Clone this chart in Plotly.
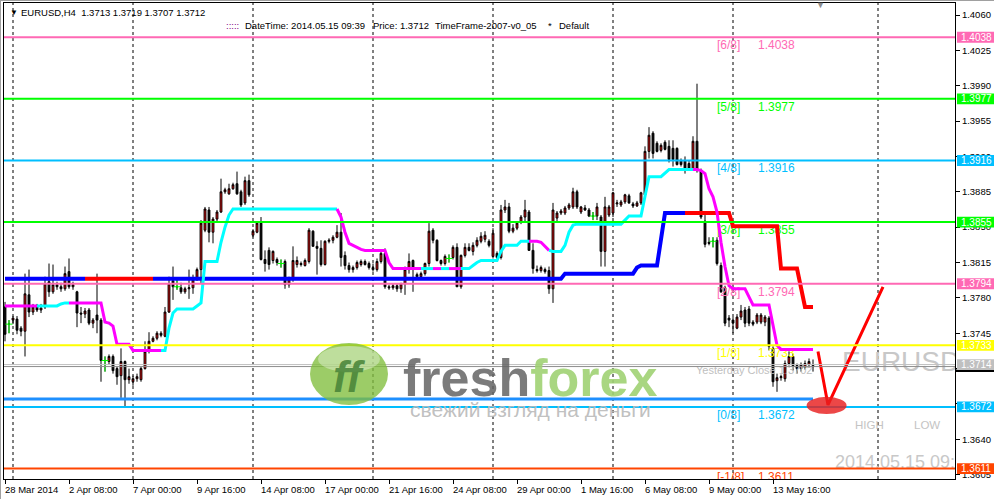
import plotly.graph_objects as go

# ---------------- data ----------------
FIRST_BAR = -32  # bar index of the first visible H4 candle (7 Apr 00:00 = bar 0)

OPEN = [
    1.3771, 1.3754, 1.3758, 1.3759, 1.3750, 1.3747, 1.3783, 1.3766, 1.3771, 1.3768,
    1.3771, 1.3796, 1.3786, 1.3793, 1.3791, 1.3789, 1.3806, 1.3791, 1.3786, 1.3765,
    1.3764, 1.3768, 1.3755, 1.3763, 1.3758, 1.3718, 1.3717, 1.3722, 1.3710, 1.3703,
    1.3717, 1.3699, 1.3697, 1.3700, 1.3699, 1.3710, 1.3727, 1.3737, 1.3740, 1.3745,
    1.3742, 1.3766, 1.3797, 1.3791, 1.3790, 1.3786, 1.3789, 1.3790, 1.3798, 1.3808,
    1.3847, 1.3867, 1.3845, 1.3858, 1.3865, 1.3885, 1.3883, 1.3888, 1.3893, 1.3885,
    1.3874, 1.3896, 1.3842, 1.3845, 1.3854, 1.3818, 1.3827, 1.3817, 1.3818, 1.3814,
    1.3816, 1.3793, 1.3799, 1.3813, 1.3814, 1.3812, 1.3816, 1.3846, 1.3831, 1.3829,
    1.3813, 1.3836, 1.3837, 1.3840, 1.3845, 1.3822, 1.3812, 1.3808, 1.3810, 1.3813,
    1.3816, 1.3814, 1.3810, 1.3808, 1.3816, 1.3824, 1.3791, 1.3790, 1.3792, 1.3789,
    1.3794, 1.3808, 1.3817, 1.3803, 1.3801, 1.3804, 1.3814, 1.3847, 1.3837, 1.3817,
    1.3814, 1.3819, 1.3820, 1.3830, 1.3791, 1.3822, 1.3830, 1.3826, 1.3832, 1.3836,
    1.3838, 1.3836, 1.3821, 1.3824, 1.3820, 1.3867, 1.3870, 1.3846, 1.3849, 1.3855,
    1.3860, 1.3865, 1.3827, 1.3808, 1.3807, 1.3808, 1.3807, 1.3789, 1.3859, 1.3864,
    1.3864, 1.3869, 1.3870, 1.3885, 1.3865, 1.3869, 1.3867, 1.3861, 1.3861, 1.3860,
    1.3826, 1.3862, 1.3864, 1.3873, 1.3872, 1.3875, 1.3881, 1.3873, 1.3871, 1.3874,
    1.3882, 1.3925, 1.3943, 1.3933, 1.3926, 1.3934, 1.3930, 1.3928, 1.3928, 1.3916,
    1.3916, 1.3913, 1.3908, 1.3935, 1.3906, 1.3856, 1.3835, 1.3836, 1.3837, 1.3812,
    1.3790, 1.3760, 1.3758, 1.3750, 1.3761, 1.3768, 1.3769, 1.3756, 1.3756, 1.3756,
    1.3756, 1.3760, 1.3730, 1.3698, 1.3701, 1.3700, 1.3715, 1.3722, 1.3713, 1.3710,
    1.3711, 1.3714, 1.3713,
]
HIGH = [
    1.3776, 1.3758, 1.3762, 1.3762, 1.3752, 1.3804, 1.3808, 1.3774, 1.3774, 1.3774,
    1.3801, 1.3814, 1.3813, 1.3796, 1.3795, 1.3811, 1.3819, 1.3796, 1.3787, 1.3771,
    1.3770, 1.3770, 1.3760, 1.3804, 1.3760, 1.3722, 1.3724, 1.3724, 1.3712, 1.3730,
    1.3718, 1.3710, 1.3703, 1.3705, 1.3712, 1.3737, 1.3746, 1.3742, 1.3747, 1.3747,
    1.3771, 1.3801, 1.3811, 1.3799, 1.3795, 1.3791, 1.3808, 1.3803, 1.3810, 1.3857,
    1.3870, 1.3870, 1.3860, 1.3867, 1.3898, 1.3889, 1.3893, 1.3894, 1.3905, 1.3887,
    1.3900, 1.3902, 1.3848, 1.3856, 1.3860, 1.3827, 1.3830, 1.3827, 1.3820, 1.3818,
    1.3818, 1.3801, 1.3831, 1.3821, 1.3816, 1.3819, 1.3849, 1.3847, 1.3836, 1.3837,
    1.3837, 1.3839, 1.3842, 1.3852, 1.3864, 1.3826, 1.3815, 1.3812, 1.3817, 1.3818,
    1.3818, 1.3816, 1.3814, 1.3819, 1.3826, 1.3829, 1.3793, 1.3794, 1.3794, 1.3795,
    1.3811, 1.3824, 1.3818, 1.3805, 1.3806, 1.3815, 1.3854, 1.3849, 1.3838, 1.3818,
    1.3823, 1.3823, 1.3832, 1.3834, 1.3823, 1.3834, 1.3834, 1.3835, 1.3840, 1.3845,
    1.3846, 1.3838, 1.3849, 1.3826, 1.3872, 1.3877, 1.3874, 1.3853, 1.3855, 1.3862,
    1.3877, 1.3867, 1.3834, 1.3812, 1.3812, 1.3810, 1.3811, 1.3874, 1.3866, 1.3868,
    1.3871, 1.3874, 1.3889, 1.3887, 1.3871, 1.3872, 1.3869, 1.3865, 1.3874, 1.3862,
    1.3880, 1.3872, 1.3885, 1.3877, 1.3877, 1.3883, 1.3883, 1.3875, 1.3876, 1.3885,
    1.3930, 1.3949, 1.3945, 1.3935, 1.3933, 1.3936, 1.3936, 1.3936, 1.3929, 1.3918,
    1.3920, 1.3916, 1.3940, 1.3992, 1.3908, 1.3862, 1.3840, 1.3840, 1.3840, 1.3815,
    1.3792, 1.3763, 1.3761, 1.3764, 1.3773, 1.3771, 1.3772, 1.3758, 1.3765, 1.3765,
    1.3763, 1.3762, 1.3732, 1.3705, 1.3704, 1.3718, 1.3727, 1.3725, 1.3715, 1.3716,
    1.3718, 1.3720, 1.3719,
]
LOW = [
    1.3737, 1.3745, 1.3754, 1.3744, 1.3742, 1.3722, 1.3761, 1.3763, 1.3766, 1.3765,
    1.3769, 1.3781, 1.3784, 1.3788, 1.3786, 1.3787, 1.3789, 1.3788, 1.3751, 1.3755,
    1.3760, 1.3753, 1.3750, 1.3745, 1.3697, 1.3707, 1.3714, 1.3705, 1.3694, 1.3681,
    1.3672, 1.3695, 1.3693, 1.3697, 1.3697, 1.3709, 1.3725, 1.3736, 1.3738, 1.3741,
    1.3741, 1.3765, 1.3778, 1.3788, 1.3784, 1.3784, 1.3779, 1.3784, 1.3797, 1.3794,
    1.3845, 1.3835, 1.3834, 1.3856, 1.3864, 1.3883, 1.3882, 1.3887, 1.3882, 1.3870,
    1.3872, 1.3880, 1.3840, 1.3844, 1.3817, 1.3806, 1.3808, 1.3814, 1.3812, 1.3810,
    1.3789, 1.3790, 1.3796, 1.3810, 1.3811, 1.3811, 1.3814, 1.3831, 1.3803, 1.3811,
    1.3812, 1.3834, 1.3834, 1.3839, 1.3811, 1.3808, 1.3805, 1.3805, 1.3808, 1.3811,
    1.3812, 1.3808, 1.3806, 1.3806, 1.3814, 1.3789, 1.3788, 1.3788, 1.3786, 1.3785,
    1.3783, 1.3804, 1.3786, 1.3800, 1.3799, 1.3802, 1.3811, 1.3834, 1.3816, 1.3812,
    1.3812, 1.3815, 1.3818, 1.3791, 1.3789, 1.3820, 1.3826, 1.3822, 1.3830, 1.3834,
    1.3835, 1.3830, 1.3819, 1.3818, 1.3818, 1.3864, 1.3844, 1.3844, 1.3847, 1.3853,
    1.3855, 1.3827, 1.3804, 1.3805, 1.3805, 1.3804, 1.3784, 1.3775, 1.3856, 1.3862,
    1.3862, 1.3867, 1.3868, 1.3868, 1.3863, 1.3866, 1.3860, 1.3857, 1.3857, 1.3811,
    1.3811, 1.3860, 1.3860, 1.3870, 1.3870, 1.3873, 1.3873, 1.3869, 1.3870, 1.3872,
    1.3880, 1.3918, 1.3918, 1.3924, 1.3924, 1.3926, 1.3914, 1.3910, 1.3911, 1.3910,
    1.3903, 1.3906, 1.3906, 1.3904, 1.3858, 1.3830, 1.3832, 1.3830, 1.3812, 1.3785,
    1.3752, 1.3751, 1.3745, 1.3749, 1.3758, 1.3751, 1.3752, 1.3752, 1.3754, 1.3754,
    1.3752, 1.3728, 1.3692, 1.3687, 1.3698, 1.3697, 1.3713, 1.3708, 1.3705, 1.3707,
    1.3709, 1.3711, 1.3707,
]
CLOSE = [
    1.3744, 1.3754, 1.3760, 1.3748, 1.3747, 1.3784, 1.3766, 1.3771, 1.3768, 1.3770,
    1.3794, 1.3786, 1.3793, 1.3791, 1.3789, 1.3804, 1.3791, 1.3793, 1.3765, 1.3764,
    1.3767, 1.3755, 1.3758, 1.3758, 1.3718, 1.3718, 1.3722, 1.3708, 1.3702, 1.3717,
    1.3699, 1.3702, 1.3700, 1.3702, 1.3710, 1.3727, 1.3737, 1.3740, 1.3745, 1.3743,
    1.3766, 1.3794, 1.3791, 1.3791, 1.3786, 1.3789, 1.3790, 1.3798, 1.3808, 1.3854,
    1.3868, 1.3845, 1.3858, 1.3865, 1.3885, 1.3887, 1.3888, 1.3892, 1.3883, 1.3872,
    1.3896, 1.3882, 1.3846, 1.3854, 1.3818, 1.3814, 1.3813, 1.3826, 1.3815, 1.3814,
    1.3793, 1.3799, 1.3817, 1.3817, 1.3813, 1.3817, 1.3847, 1.3831, 1.3829, 1.3813,
    1.3836, 1.3837, 1.3840, 1.3845, 1.3820, 1.3812, 1.3808, 1.3810, 1.3815, 1.3816,
    1.3813, 1.3810, 1.3808, 1.3816, 1.3824, 1.3791, 1.3790, 1.3792, 1.3789, 1.3794,
    1.3808, 1.3816, 1.3809, 1.3801, 1.3804, 1.3814, 1.3846, 1.3837, 1.3817, 1.3814,
    1.3821, 1.3819, 1.3830, 1.3791, 1.3822, 1.3830, 1.3827, 1.3832, 1.3837, 1.3841,
    1.3842, 1.3832, 1.3844, 1.3820, 1.3867, 1.3870, 1.3846, 1.3849, 1.3854, 1.3860,
    1.3867, 1.3827, 1.3809, 1.3807, 1.3810, 1.3806, 1.3789, 1.3867, 1.3864, 1.3866,
    1.3869, 1.3872, 1.3885, 1.3870, 1.3870, 1.3867, 1.3861, 1.3861, 1.3870, 1.3826,
    1.3870, 1.3870, 1.3884, 1.3874, 1.3875, 1.3882, 1.3874, 1.3871, 1.3874, 1.3884,
    1.3925, 1.3941, 1.3923, 1.3925, 1.3931, 1.3927, 1.3917, 1.3917, 1.3912, 1.3912,
    1.3907, 1.3908, 1.3935, 1.3907, 1.3860, 1.3833, 1.3834, 1.3836, 1.3814, 1.3786,
    1.3755, 1.3758, 1.3755, 1.3761, 1.3767, 1.3755, 1.3755, 1.3754, 1.3763, 1.3763,
    1.3761, 1.3732, 1.3697, 1.3701, 1.3702, 1.3715, 1.3722, 1.3713, 1.3710, 1.3714,
    1.3715, 1.3717, 1.3712,
]

# trailing-stop line 1 (cyan = up, magenta = down); state = colour of segment ending at the vertex
TRAIL1_BARS = [-32, -24, -19, -18, -17, -16, -8, -7, -6, -5, -4, -1, 0, 7, 8, 9, 10, 11, 15, 16,
               17, 18, 21, 22, 23, 24, 25, 51, 52, 53, 54, 55, 56, 57, 58, 63, 64, 65, 72, 75,
               77, 79, 82, 84, 85, 86, 87, 91, 92, 93, 96, 97, 99, 101, 102, 103, 104, 105, 107, 108,
               109, 110, 111, 122, 123, 124, 127, 128, 129, 132, 133, 134, 140, 141, 142, 143, 144, 145, 146, 147,
               148, 149, 150, 153, 154, 155, 159, 160, 161, 162, 170]
TRAIL1_PRICES = [1.3772, 1.3772, 1.3772, 1.3774, 1.3775, 1.3775, 1.3775, 1.3756, 1.3755, 1.3752,
                 1.3734, 1.3734, 1.3728, 1.3728, 1.3728, 1.3750, 1.3765, 1.3769, 1.3769, 1.3772,
                 1.3775, 1.3816, 1.3816, 1.3835, 1.3850, 1.3862, 1.3868, 1.3868, 1.3860, 1.3845,
                 1.3834, 1.3832, 1.3830, 1.3828, 1.3827, 1.3827, 1.3815, 1.3809, 1.3809, 1.3809,
                 1.3809, 1.3809, 1.3809, 1.3809, 1.3812, 1.3815, 1.3817, 1.3817, 1.3826, 1.3832,
                 1.3832, 1.3836, 1.3836, 1.3836, 1.3835, 1.3831, 1.3827, 1.3826, 1.3826, 1.3832,
                 1.3845, 1.3852, 1.3853, 1.3853, 1.3857, 1.3861, 1.3861, 1.3880, 1.3900, 1.3900,
                 1.3904, 1.3907, 1.3907, 1.3907, 1.3906, 1.3903, 1.3888, 1.3880, 1.3865, 1.3835,
                 1.3811, 1.3792, 1.3789, 1.3789, 1.3781, 1.3773, 1.3773, 1.3751, 1.3733, 1.3729,
                 1.3729]
TRAIL1_STATE = [0, -1, 1, 1, 1, 1, -1, -1, -1, -1, -1, -1, -1, -1, 1, 1, 1, 1, 1, 1,
                1, 1, 1, 1, 1, 1, 1, 1, -1, -1, -1, -1, -1, -1, -1, -1, -1, -1, -1, 1,
                -1, 1, -1, 1, 1, 1, 1, 1, 1, 1, 1, 1, 1, -1, -1, -1, -1, 1, 1, 1,
                1, 1, 1, 1, 1, 1, 1, 1, 1, 1, 1, 1, 1, -1, -1, -1, -1, -1, -1, -1,
                -1, -1, -1, -1, -1, -1, -1, -1, -1, -1, -1]

# trailing-stop line 2 (blue = up, red = down)
TRAIL2_BARS = [-32, -12, 5, 107, 108, 125, 126, 127, 131, 132, 133, 138, 149, 150, 161, 162, 166, 167, 168, 170]
TRAIL2_PRICES = [1.3799, 1.3799, 1.3799, 1.3799, 1.3804, 1.3804, 1.3810, 1.3812, 1.3812, 1.3840,
                 1.3864, 1.3864, 1.3864, 1.3851, 1.3851, 1.3809, 1.3809, 1.3790, 1.3771, 1.3771]
TRAIL2_STATE = [0, 1, -1, 1, 1, 1, 1, 1, 1, 1, 1, 1, -1, -1, -1, -1, -1, -1, -1, -1]

# Murrey math levels
MURREY_NAMES = ["[6/8]", "[5/8]", "[4/8]", "[3/8]", "[2/8]", "[1/8]", "[0/8]", "[-1/8]"]
MURREY_LEVELS = [1.4038, 1.3977, 1.3916, 1.3855, 1.3794, 1.3733, 1.3672, 1.3611]
MURREY_COLORS = ["#FF69B4", "#00FF00", "#00BFFF", "#00FF00", "#FF69B4", "#FFFF00", "#00BFFF", "#FF4500"]

SUPPORT_LEVEL = 1.3680          # thick blue line up to the last bar
GRAY_LEVELS = [1.3714, 1.3712]  # yesterday-close / bid lines
GRAY_COLORS = ["#C0C0C0", "#8C8C8C"]
YESTERDAY_CLOSE = 1.3702

RIGHT_LABEL_PRICES = MURREY_LEVELS[:6] + [1.3714, 1.3672, 1.3611]
RIGHT_LABEL_COLORS = MURREY_COLORS[:6] + ["#C0C0C0", "#00BFFF", "#FF4500"]

# forecast drawing (red zig-zag + target ellipse)
FORECAST_BARS = [171.25, 173.75, 187.5]
FORECAST_PRICES = [1.3727, 1.3674, 1.3791]
TARGET_BARS = [168.4, 178.4]
TARGET_PRICES = [1.3665, 1.3682]

SEPARATOR_BARS = [-30, 0, 30, 60, 90, 120, 150, 186.25]
TICK_BARS = [-32, -16, 0, 16, 32, 48, 64, 80, 96, 112, 128, 144, 160]
TICK_LABELS = ["28 Mar 2014", "2 Apr 08:00", "7 Apr 00:00", "9 Apr 16:00", "14 Apr 08:00",
               "17 Apr 00:00", "21 Apr 16:00", "24 Apr 08:00", "29 Apr 00:00", "1 May 16:00",
               "6 May 08:00", "9 May 00:00", "13 May 16:00"]
Y_TICKS = [1.3605, 1.3640, 1.3675, 1.3710, 1.3745, 1.3780, 1.3815, 1.3850, 1.3885,
           1.3920, 1.3955, 1.3990, 1.4025, 1.4060]
Y_TICKS_HIDDEN = [1.3675, 1.3710]  # fully covered by the price boxes in the terminal

# ---------------- layout geometry ----------------
FONT = "Liberation Sans, Arial, sans-serif"
L, T, W, H = 4, 3, 951, 476
X_RANGE = [-32.25, 205.5]
Y_RANGE = [1.36007, 1.40719]


def bar_of(px):
    return X_RANGE[0] + (px - L) / W * (X_RANGE[1] - X_RANGE[0])


def price_of(py):
    return Y_RANGE[1] - (py - T) / H * (Y_RANGE[1] - Y_RANGE[0])


def paper_x(px):
    return (px - L) / W


def paper_y(py):
    return 1 - (py - T) / H


PRICE_PER_PX = (Y_RANGE[1] - Y_RANGE[0]) / H
BARS = list(range(FIRST_BAR, FIRST_BAR + len(OPEN)))

fig = go.Figure()

# ---------- background texts (clipped to plot area) ----------
def text_trace(x, y, text, size, color, family=FONT):
    fig.add_trace(go.Scatter(x=x, y=y, text=text, mode="text", textposition="middle right",
                             textfont=dict(size=size, color=color, family=family),
                             hoverinfo="skip", cliponaxis=True))


text_trace([bar_of(842)], [price_of(364)], ["EURUSD"], 28, "#C8C8C8")
text_trace([bar_of(835)], [price_of(463)], ["2014.05.15 09:39"], 18, "#C8C8C8")
text_trace([bar_of(855), bar_of(914)], [price_of(426), price_of(426)], ["HIGH", "LOW"], 11.5, "#C4C4C4")
text_trace([bar_of(696)], [GRAY_LEVELS[0] - 7 * PRICE_PER_PX], [f"Yesterday Close {YESTERDAY_CLOSE:.4f}"], 11, "#C0C0C0")
for name, lvl, col in zip(MURREY_NAMES, MURREY_LEVELS, MURREY_COLORS):
    text_trace([bar_of(717), bar_of(758)], [lvl - 9 * PRICE_PER_PX] * 2, [name, f"{lvl:.4f}"], 12, col)

# ---------- candles ----------
fig.add_trace(go.Candlestick(
    x=BARS, open=OPEN, high=HIGH, low=LOW, close=CLOSE,
    increasing=dict(line=dict(color="black", width=1), fillcolor="#FF0000"),
    decreasing=dict(line=dict(color="black", width=1), fillcolor="black"),
    whiskerwidth=0, hoverinfo="skip"))

# doji candles in lime
dx, dy, mx, my = [], [], [], []
for b, o, h, l, c in zip(BARS, OPEN, HIGH, LOW, CLOSE):
    if o == c:
        dx += [b, b, None]
        dy += [l, h, None]
        mx.append(b)
        my.append(c)
fig.add_trace(go.Scatter(x=dx, y=dy, mode="lines", line=dict(color="#00FF00", width=1), hoverinfo="skip"))
fig.add_trace(go.Scatter(x=mx, y=my, mode="markers",
                         marker=dict(symbol="line-ew", size=5, line=dict(color="#00FF00", width=1)),
                         hoverinfo="skip"))


# ---------- coloured trailing lines ----------
def colored_path(xs, ys, states, colors, width):
    k = 1
    while k < len(xs):
        s = states[k]
        start = k - 1
        while k < len(xs) and states[k] == s:
            k += 1
        fig.add_trace(go.Scatter(x=xs[start:k], y=ys[start:k], mode="lines",
                                 line=dict(color=colors[s], width=width), hoverinfo="skip"))


colored_path(TRAIL2_BARS, TRAIL2_PRICES, TRAIL2_STATE, {1: "#0000FF", -1: "#FF0000"}, 4)
colored_path(TRAIL1_BARS, TRAIL1_PRICES, TRAIL1_STATE, {1: "#00FFFF", -1: "#FF00FF"}, 3)

# forecast zig-zag
fig.add_trace(go.Scatter(x=FORECAST_BARS, y=FORECAST_PRICES, mode="lines",
                         line=dict(color="#FF0000", width=3), hoverinfo="skip"))

shapes = []
# week separators
for b in SEPARATOR_BARS:
    shapes.append(dict(type="line", xref="x", yref="paper", x0=b, x1=b, y0=0, y1=1,
                       line=dict(color="black", width=1, dash="3px,3px"), layer="below"))
# horizontal levels
for lvl, col in zip(GRAY_LEVELS, GRAY_COLORS):
    shapes.append(dict(type="line", xref="paper", yref="y", x0=0, x1=1, y0=lvl, y1=lvl,
                       line=dict(color=col, width=1), layer="above"))
for lvl, col in zip(MURREY_LEVELS, MURREY_COLORS):
    shapes.append(dict(type="line", xref="paper", yref="y", x0=0, x1=1, y0=lvl, y1=lvl,
                       line=dict(color=col, width=2), layer="above"))
shapes.append(dict(type="line", xref="x", yref="y", x0=X_RANGE[0], x1=BARS[-1],
                   y0=SUPPORT_LEVEL, y1=SUPPORT_LEVEL, line=dict(color="#1E90FF", width=3), layer="above"))
# target ellipse
shapes.append(dict(type="circle", xref="x", yref="y", x0=TARGET_BARS[0], x1=TARGET_BARS[1],
                   y0=TARGET_PRICES[0], y1=TARGET_PRICES[1], fillcolor="rgba(232,30,30,0.82)",
                   line=dict(width=0), layer="above"))

# freshforex logo badge
shapes.append(dict(type="circle", xref="paper", yref="paper", x0=paper_x(310), x1=paper_x(388),
                   y0=paper_y(405), y1=paper_y(343), fillcolor="rgba(128,190,60,0.78)",
                   line=dict(width=0), layer="above"))
shapes.append(dict(type="circle", xref="paper", yref="paper", x0=paper_x(318), x1=paper_x(380),
                   y0=paper_y(372), y1=paper_y(346), fillcolor="rgba(255,255,255,0.35)",
                   line=dict(width=0), layer="above"))

# right-axis price boxes
shapes.append(dict(type="rect", xref="paper", yref="paper", x0=paper_x(955), x1=paper_x(994),
                   y0=paper_y(372), y1=paper_y(369.5), fillcolor="black", line=dict(width=0), layer="above"))
annotations = []
for p, col in zip(RIGHT_LABEL_PRICES, RIGHT_LABEL_COLORS):
    shapes.append(dict(type="rect", xref="paper", yref="y", x0=paper_x(957), x1=paper_x(994),
                       y0=p - 5.4 * PRICE_PER_PX, y1=p + 5.4 * PRICE_PER_PX,
                       fillcolor=col, line=dict(width=0), layer="above"))
    annotations.append(dict(xref="paper", yref="y", x=paper_x(976), y=p, text=f"{p:.4f}",
                            showarrow=False, font=dict(size=10, color="white", family=FONT),
                            xanchor="center", yanchor="middle"))

# logo texts
annotations.append(dict(xref="paper", yref="paper", x=paper_x(349), y=paper_y(376),
                        text="<b><i>ff</i></b>", showarrow=False, xanchor="center", yanchor="middle",
                        font=dict(size=44, color="rgba(70,130,55,0.85)", family=FONT)))
annotations.append(dict(xref="paper", yref="paper", x=paper_x(401), y=paper_y(378),
                        text="<b><span style='color:rgba(100,100,100,0.85)'>fresh</span>"
                             "<span style='color:rgba(160,210,115,0.9)'>forex</span></b>",
                        showarrow=False, xanchor="left", yanchor="middle",
                        font=dict(size=52, family=FONT)))
annotations.append(dict(xref="paper", yref="paper", x=paper_x(408), y=paper_y(409),
                        text="свежий взгляд на деньги", showarrow=False, xanchor="left", yanchor="middle",
                        font=dict(size=21, color="rgba(185,185,185,0.9)", family=FONT)))

# header texts
annotations.append(dict(xref="paper", yref="paper", x=paper_x(8), y=paper_y(12), text="▼",
                        showarrow=False, xanchor="left", yanchor="middle",
                        font=dict(size=8, color="black", family=FONT)))
annotations.append(dict(xref="paper", yref="paper", x=paper_x(19), y=paper_y(12.5),
                        text="EURUSD,H4  1.3713 1.3719 1.3707 1.3712", showarrow=False,
                        xanchor="left", yanchor="middle", font=dict(size=9.5, color="black", family=FONT)))
for px_, txt, col in [(224, ":::::", "#800080"), (243, "DateTime: 2014.05.15 09:39", "black"),
                      (371, "Price: 1.3712", "black"), (433, "TimeFrame-2007-v0_05", "black"),
                      (546, "*", "black"), (557, "Default", "black")]:
    annotations.append(dict(xref="paper", yref="paper", x=paper_x(px_), y=paper_y(25.5), text=txt,
                            showarrow=False, xanchor="left", yanchor="middle",
                            font=dict(size=9.5, color=col, family=FONT)))
annotations.append(dict(xref="paper", yref="paper", x=paper_x(820), y=paper_y(5), text="▼",
                        showarrow=False, xanchor="center", yanchor="middle",
                        font=dict(size=9, color="#8C8C8C", family=FONT)))

# x-axis labels (left aligned on their tick, as in the terminal)
for b, lab in zip(TICK_BARS, TICK_LABELS):
    annotations.append(dict(xref="x", yref="paper", x=b, y=paper_y(490), text=lab, showarrow=False,
                            xanchor="left", yanchor="middle", xshift=-2,
                            font=dict(size=9.5, color="black", family=FONT)))

# outer frame of the window
shapes.append(dict(type="line", xref="paper", yref="paper", x0=paper_x(0.5), x1=paper_x(0.5),
                   y0=paper_y(499), y1=paper_y(0), line=dict(color="#A0A0A0", width=1), layer="above"))
shapes.append(dict(type="line", xref="paper", yref="paper", x0=paper_x(0), x1=paper_x(994),
                   y0=paper_y(0.5), y1=paper_y(0.5), line=dict(color="#A0A0A0", width=1), layer="above"))

fig.update_layout(
    width=994, height=499,
    margin=dict(l=L, r=994 - L - W, t=T, b=499 - T - H, pad=0),
    paper_bgcolor="white", plot_bgcolor="white",
    showlegend=False, boxgap=0.35,
    font=dict(family=FONT, size=10, color="black"),
    shapes=shapes, annotations=annotations,
    xaxis=dict(range=X_RANGE, showgrid=False, zeroline=False, showline=True, mirror=True,
               linecolor="black", linewidth=1, ticks="outside", ticklen=4, tickcolor="black",
               tickvals=TICK_BARS, showticklabels=False, rangeslider=dict(visible=False),
               fixedrange=True),
    yaxis=dict(range=Y_RANGE, side="right", showgrid=False, zeroline=False, showline=True,
               mirror=True, linecolor="black", linewidth=1, ticks="outside", ticklen=4,
               tickcolor="black", tickvals=Y_TICKS,
               ticktext=["" if v in Y_TICKS_HIDDEN else f"{v:.4f}" for v in Y_TICKS],
               tickfont=dict(size=9.5, color="black", family=FONT), fixedrange=True),
    hovermode=False,
)

fig.write_html("out.html", config={"displayModeBar": False},
               post_script="document.body.style.margin='0';document.body.style.overflow='hidden';")
